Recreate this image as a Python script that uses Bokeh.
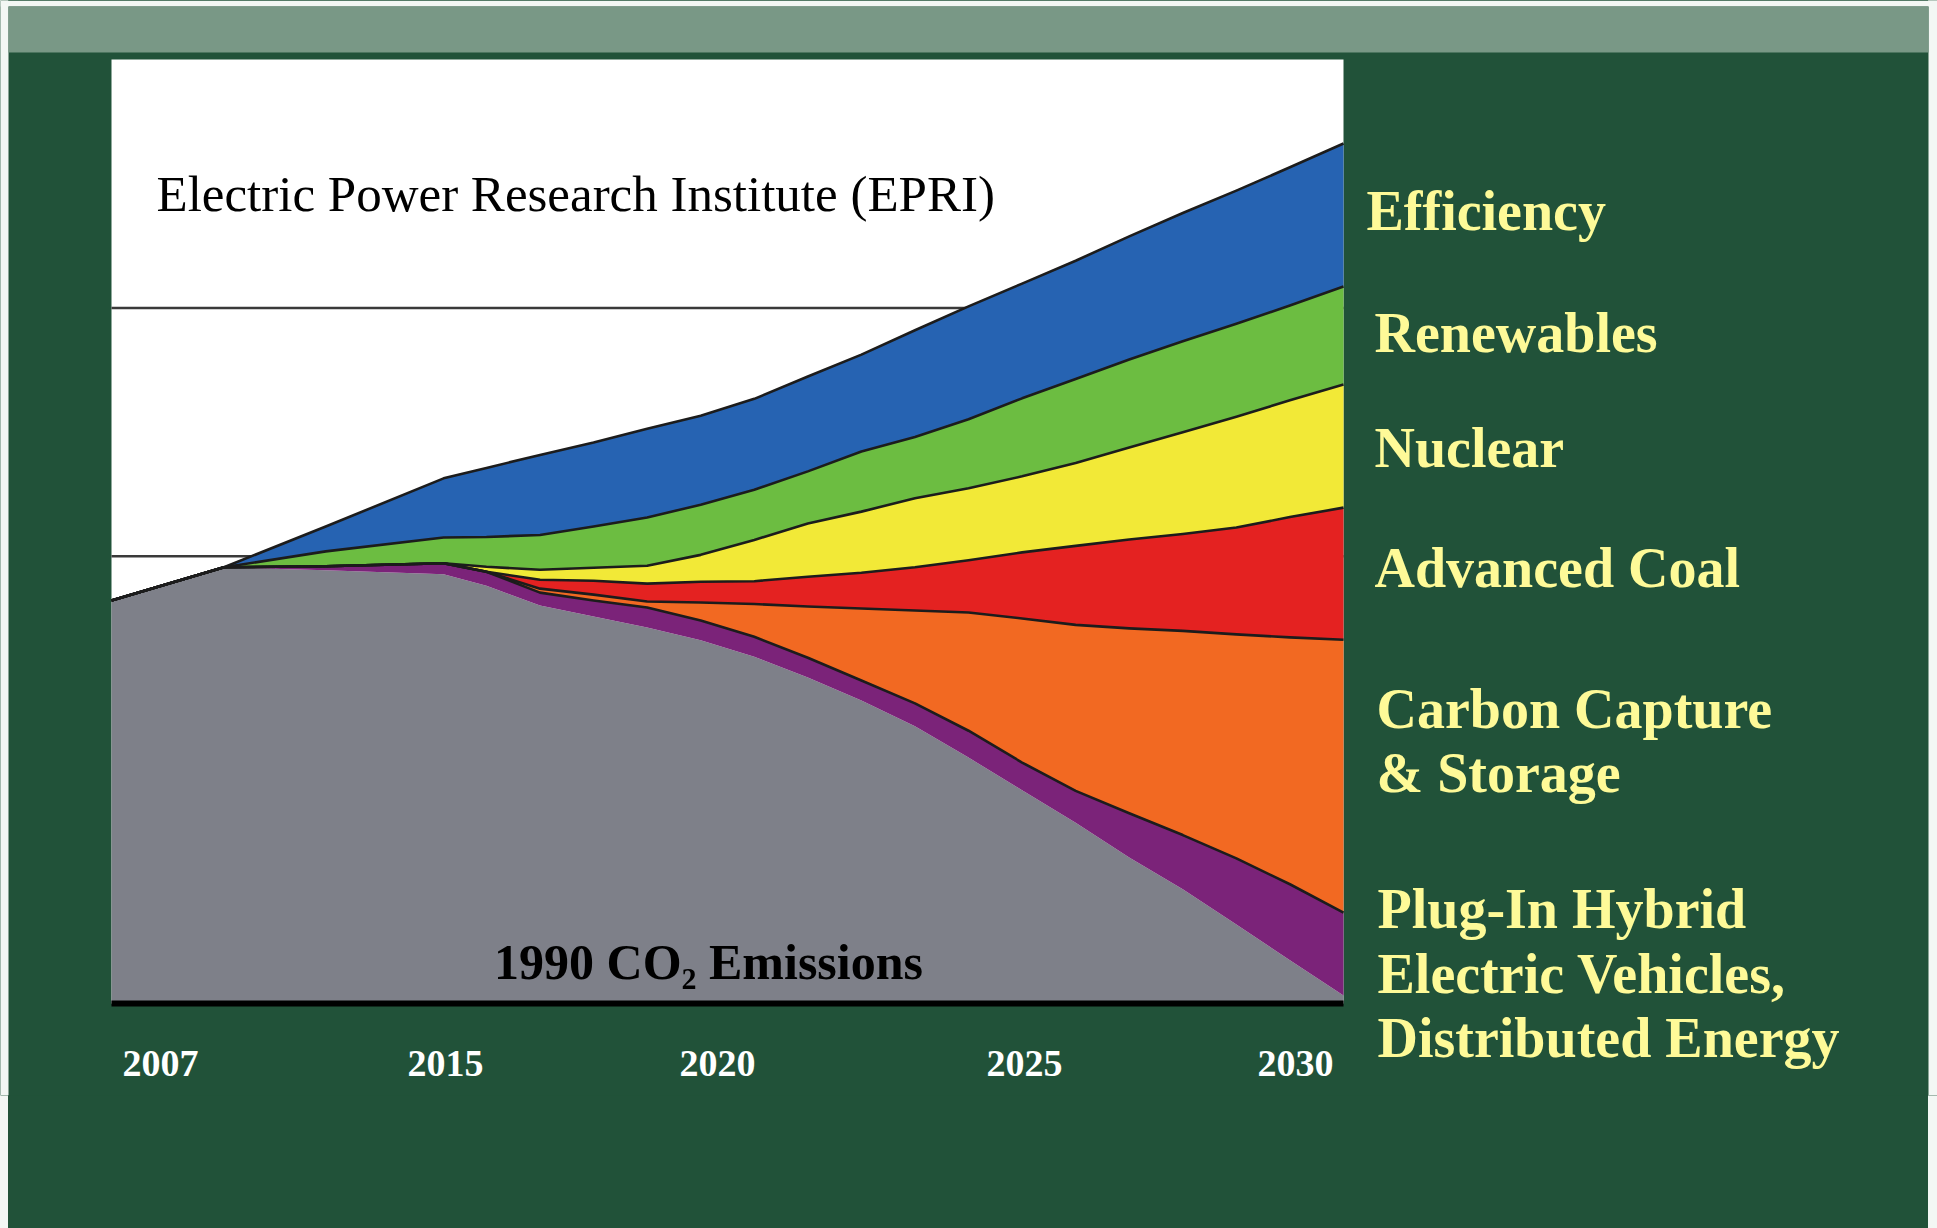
from bokeh.plotting import figure
from bokeh.models import ColumnDataSource, FixedTicker, CustomJSTickFormatter, Label, Range1d, BoxAnnotation
from bokeh.embed import file_html
from bokeh.resources import INLINE

# ---------------- data ----------------
years = [2007, 2009.1, 2011, 2013.2, 2014, 2015, 2016, 2017, 2018, 2019, 2020,
         2021, 2022, 2023, 2024, 2025, 2026, 2027, 2028, 2029, 2030]
remaining = [2411, 2478, 2472, 2464, 2441, 2401, 2379, 2357, 2331, 2298, 2256,
             2210, 2158, 2095, 2029, 1964, 1894, 1830, 1759, 1687, 1616]
phev_de = [0, 0, 8, 22, 28, 26, 32, 40, 40, 40, 40, 40, 46, 54, 56, 64, 89, 109, 133, 153, 167]
ccs = [0, 0, 0, 0, 0, 8, 12, 12, 36, 66, 103, 145, 187, 238, 290, 334, 372, 411, 451, 497, 549]
adv_coal = [0, 0, 0, 0, 0, 18, 28, 36, 42, 46, 60, 72, 87, 105, 133, 159, 179, 195, 215, 242, 266]
nuclear = [0, 0, 0, 0, 10, 20, 26, 36, 54, 83, 107, 123, 139, 145, 153, 167, 185, 205, 223, 235, 248]
renewables = [0, 0, 30, 52, 60, 70, 83, 97, 101, 101, 105, 121, 123, 139, 157, 169, 177, 183, 187, 191, 197]
efficiency = [0, 0, 50, 119, 139, 161, 169, 179, 179, 183, 191, 195, 215, 227, 231, 238, 248, 258, 268, 278, 288]

tick_labels = ["2007", "2015", "2020", "2025", "2030"]
gridline_values = [2500, 3000]
title_text = "Electric Power Research Institute (EPRI)"
base_text = "1990 CO\u2082 Emissions"
wedge_labels = [["Efficiency"], ["Renewables"], ["Nuclear"], ["Advanced Coal"],
                ["Carbon Capture", "& Storage"],
                ["Plug-In Hybrid", "Electric Vehicles,", "Distributed Energy"]]

# ---------------- layout / style ----------------
DARK = "#215239"
BAND = "#799886"
EDGE = "#f3f7f4"
LABEL_YELLOW = "#fefa98"
COLORS = ["#7e8089", "#7b2379", "#f26922", "#e42221", "#f2e937", "#6cbd41", "#2663b2"]
SERIF = "Liberation Serif"

X0, X1 = 2007, 2030          # chart x extent
Y0, Y1 = 1600, 3500          # chart y extent (Y0 = chart floor)
W, H = 1937, 1228            # canvas (page) size
FB = 1095                    # bottom of the drawing frame (page px)
CH_L, CH_T, CH_W, CH_H = 111, 59, 1232, 944   # chart rectangle (page px)

def xd(px):
    return X0 + (px - CH_L) * (X1 - X0) / CH_W

def yd(py):
    return Y1 - (py - CH_T) * (Y1 - Y0) / CH_H

BASE_FIX = 0.35   # text baseline correction, in em

tick_px = [160, 445, 717, 1024, 1295]
label_left_px = [1366, 1374, 1374, 1374, 1376, 1377]
label_base_px = [[230], [352], [467], [587], [728, 792], [928, 993, 1057]]

p = figure(width=W, height=H, toolbar_location=None, output_backend="svg",
           x_range=Range1d(xd(0), xd(W)), y_range=Range1d(yd(FB), yd(0)),
           y_axis_location=None, min_border=0, min_border_bottom=H - FB,
           background_fill_color=DARK, border_fill_color=None, outline_line_color=None)
p.xgrid.visible = False
p.ygrid.visible = False

# page decoration: light edges and header band
for l, r, t, b, c in [(0, W, 0, 6, EDGE), (0, 8, 0, FB, EDGE), (1928, W, 0, FB, EDGE),
                      (8, 1928, 6, 52, BAND)]:
    p.add_layout(BoxAnnotation(left=xd(l), right=xd(r), top=yd(t), bottom=yd(b),
                               fill_color=c, fill_alpha=1, line_color=None))

# chart background
p.add_layout(BoxAnnotation(left=X0, right=X1, top=Y1, bottom=Y0, fill_color="white",
                           fill_alpha=1, line_color=None, level="image"))

# horizontal reference lines
p.segment(x0=[X0] * len(gridline_values), x1=[X1] * len(gridline_values),
          y0=gridline_values, y1=gridline_values, line_color="#3a3a3a",
          line_width=2.5, level="underlay")

# stacked wedges, built on the chart floor
layers = [remaining, phev_de, ccs, adv_coal, nuclear, renewables, efficiency]
names = ["remaining", "phev_de", "ccs", "adv_coal", "nuclear", "renewables", "efficiency"]
data = dict(year=years)
lower = [Y0] * len(years)
cum = [0] * len(years)
for name, vals in zip(names, layers):
    data[name + "_lo"] = list(lower)
    cum = [c + v for c, v in zip(cum, vals)]
    data[name + "_hi"] = list(cum)
    lower = list(cum)
source = ColumnDataSource(data)

for name, col in zip(names, COLORS):
    p.varea(x="year", y1=name + "_lo", y2=name + "_hi", source=source,
            fill_color=col, fill_alpha=1)
for name in names[1:]:
    p.line(x="year", y=name + "_hi", source=source, line_color="#1c1c1c",
           line_width=2.6, line_join="round")

# baseline (x axis line of the chart)
p.segment(x0=[X0], x1=[X1], y0=[Y0], y1=[Y0], line_color="black", line_width=6)

ax = p.xaxis[0]
ax.ticker = FixedTicker(ticks=[xd(v) for v in tick_px])
ax.formatter = CustomJSTickFormatter(args=dict(labels=tick_labels), code="return labels[index];")
ax.axis_line_color = None
ax.major_tick_line_color = None
ax.minor_tick_line_color = None
ax.major_tick_out = 0
ax.major_tick_in = 0
ax.major_label_standoff = -45
ax.major_label_text_color = "white"
ax.major_label_text_font = SERIF
ax.major_label_text_font_style = "bold"
ax.major_label_text_font_size = "38px"

def add_text(txt, x_px, base_px, size, color, bold=False, align="left"):
    p.add_layout(Label(x=xd(x_px), y=yd(base_px - BASE_FIX * size), text=txt,
                       text_font=SERIF, text_font_size=f"{size}px",
                       text_font_style="bold" if bold else "normal",
                       text_color=color, text_align=align, text_baseline="alphabetic"))

add_text(title_text, 156, 211, 51, "black")
add_text(base_text, 708, 979, 50, "black", bold=True, align="center")

for lines, lx, bases in zip(wedge_labels, label_left_px, label_base_px):
    for txt, by in zip(lines, bases):
        add_text(txt, lx, by, 56, LABEL_YELLOW, bold=True)

page_style = ("<style>body{background:linear-gradient(to right," + EDGE + " 0px," + EDGE +
              " 8px," + DARK + " 8px," + DARK + " 1928px," + EDGE + " 1928px);}</style>")
html = file_html(p, INLINE).replace("</head>", page_style + "</head>", 1)
open("out.html", "w").write(html)
